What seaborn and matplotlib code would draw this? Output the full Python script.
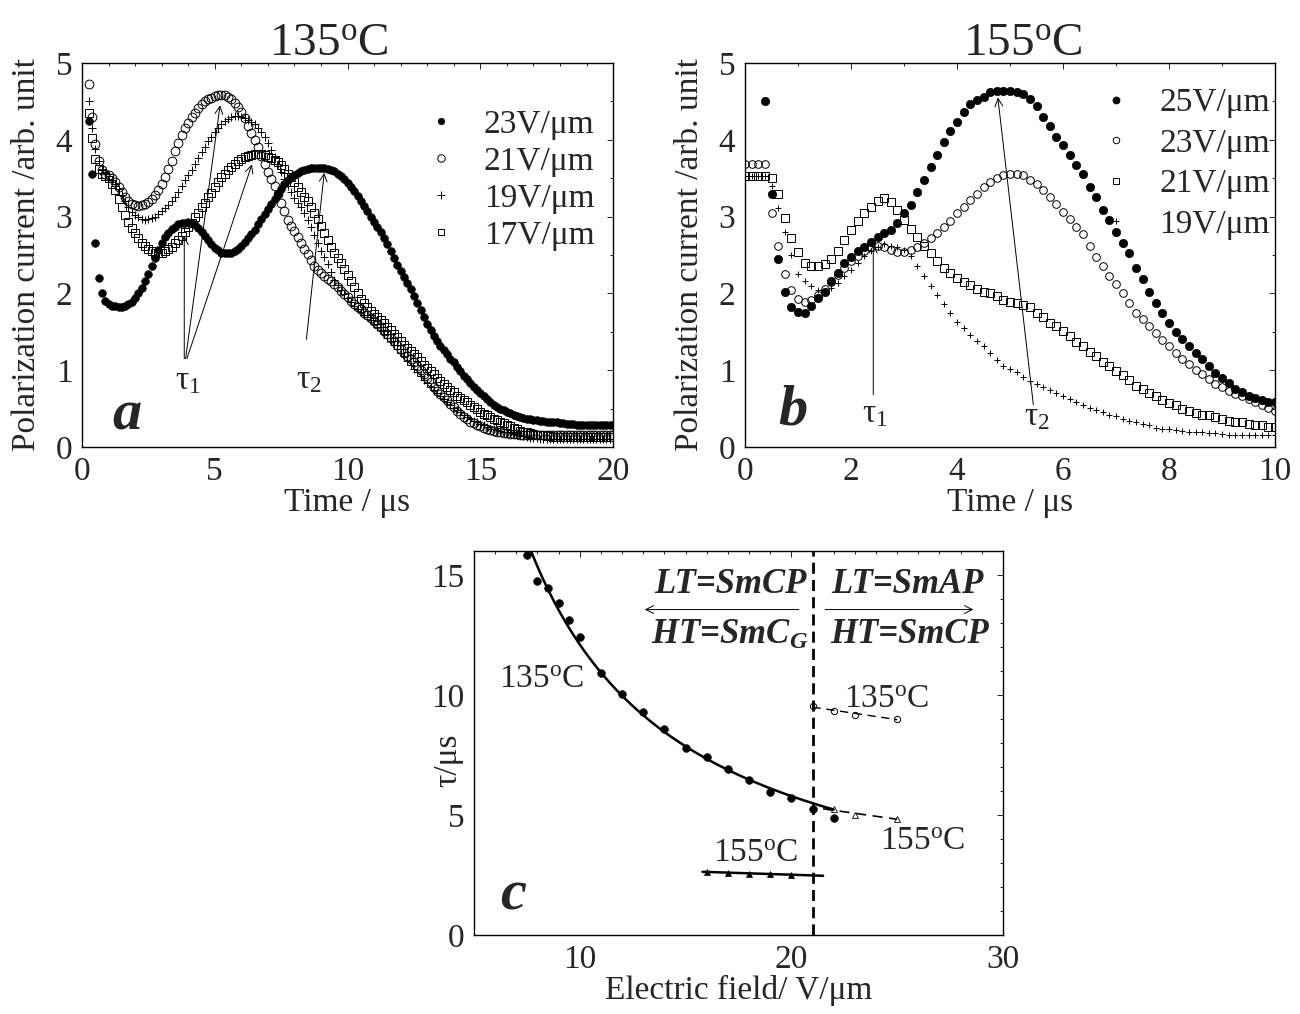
import numpy as np
import matplotlib
matplotlib.use("Agg")
import matplotlib.pyplot as plt
import seaborn as sns

# ---- panel a : 135 oC, polarization current read every 0.125 us (0.25 .. 20) ----
time_a = np.linspace(0.25, 20.0, 159)
current_a_23 = [4.25, 3.55, 2.65, 2.20, 2.00, 1.90, 1.86, 1.84, 1.83, 1.82,
                1.82, 1.84, 1.86, 1.89, 1.94, 2.00, 2.07, 2.16, 2.25, 2.36,
                2.46, 2.57, 2.66, 2.73, 2.79, 2.84, 2.87, 2.90, 2.91, 2.92,
                2.93, 2.92, 2.89, 2.85, 2.80, 2.75, 2.69, 2.64, 2.59, 2.56,
                2.53, 2.52, 2.52, 2.53, 2.55, 2.58, 2.62, 2.67, 2.72, 2.77,
                2.83, 2.90, 2.97, 3.03, 3.10, 3.17, 3.23, 3.30, 3.36, 3.42,
                3.47, 3.51, 3.54, 3.57, 3.59, 3.61, 3.62, 3.63, 3.63, 3.63,
                3.63, 3.63, 3.62, 3.61, 3.59, 3.56, 3.53, 3.49, 3.44, 3.39,
                3.33, 3.27, 3.20, 3.14, 3.07, 3.00, 2.93, 2.87, 2.80, 2.72,
                2.64, 2.55, 2.46, 2.37, 2.29, 2.21, 2.14, 2.06, 1.97, 1.88,
                1.78, 1.69, 1.60, 1.52, 1.45, 1.38, 1.32, 1.26, 1.21, 1.15,
                1.10, 1.04, 0.99, 0.93, 0.88, 0.83, 0.78, 0.74, 0.70, 0.66,
                0.62, 0.58, 0.55, 0.52, 0.50, 0.48, 0.46, 0.44, 0.42, 0.40,
                0.39, 0.38, 0.37, 0.36, 0.35, 0.35, 0.34, 0.34, 0.33, 0.33,
                0.32, 0.32, 0.31, 0.31, 0.30, 0.30, 0.30, 0.29, 0.29, 0.29,
                0.28, 0.28, 0.28, 0.28, 0.28, 0.28, 0.28, 0.28, 0.28]
current_a_21 = [4.72, 4.30, 3.95, 3.72, 3.60, 3.56, 3.54, 3.50, 3.45, 3.39,
                3.32, 3.26, 3.20, 3.17, 3.15, 3.14, 3.15, 3.16, 3.19, 3.23,
                3.28, 3.34, 3.42, 3.51, 3.62, 3.73, 3.85, 3.96, 4.06, 4.15,
                4.22, 4.29, 4.35, 4.41, 4.46, 4.50, 4.53, 4.55, 4.57, 4.58,
                4.58, 4.58, 4.56, 4.53, 4.48, 4.43, 4.36, 4.28, 4.18, 4.09,
                4.00, 3.90, 3.79, 3.68, 3.58, 3.49, 3.40, 3.29, 3.18, 3.07,
                2.96, 2.88, 2.81, 2.73, 2.66, 2.58, 2.51, 2.43, 2.36, 2.31,
                2.27, 2.23, 2.19, 2.16, 2.12, 2.08, 2.03, 1.99, 1.95, 1.90,
                1.86, 1.82, 1.79, 1.75, 1.72, 1.68, 1.64, 1.60, 1.56, 1.51,
                1.47, 1.42, 1.38, 1.33, 1.28, 1.23, 1.19, 1.14, 1.10, 1.05,
                1.00, 0.95, 0.90, 0.84, 0.78, 0.73, 0.69, 0.65, 0.61, 0.56,
                0.52, 0.47, 0.43, 0.39, 0.36, 0.33, 0.31, 0.29, 0.27, 0.25,
                0.23, 0.22, 0.21, 0.20, 0.19, 0.18, 0.18, 0.17, 0.17, 0.17,
                0.16, 0.16, 0.16, 0.16, 0.15, 0.15, 0.15, 0.15, 0.15, 0.15,
                0.15, 0.15, 0.15, 0.15, 0.15, 0.15, 0.15, 0.15, 0.15, 0.15,
                0.15, 0.15, 0.15, 0.15, 0.15, 0.15, 0.15, 0.15, 0.15]
current_a_19 = [4.50, 4.15, 3.88, 3.72, 3.62, 3.57, 3.53, 3.48, 3.43, 3.36,
                3.28, 3.20, 3.12, 3.06, 3.02, 2.99, 2.97, 2.96, 2.97, 2.98,
                3.00, 3.03, 3.07, 3.11, 3.15, 3.20, 3.25, 3.32, 3.40, 3.47,
                3.54, 3.61, 3.68, 3.76, 3.84, 3.91, 3.98, 4.04, 4.10, 4.15,
                4.20, 4.24, 4.27, 4.29, 4.31, 4.31, 4.30, 4.28, 4.26, 4.23,
                4.20, 4.15, 4.10, 4.03, 3.96, 3.87, 3.78, 3.68, 3.58, 3.49,
                3.40, 3.32, 3.24, 3.18, 3.12, 3.04, 2.96, 2.86, 2.76, 2.65,
                2.55, 2.47, 2.38, 2.28, 2.18, 2.11, 2.04, 1.99, 1.94, 1.89,
                1.84, 1.80, 1.76, 1.72, 1.69, 1.65, 1.60, 1.56, 1.52, 1.47,
                1.42, 1.38, 1.33, 1.28, 1.23, 1.18, 1.12, 1.07, 1.01, 0.97,
                0.92, 0.87, 0.83, 0.78, 0.74, 0.70, 0.66, 0.62, 0.58, 0.55,
                0.51, 0.48, 0.45, 0.42, 0.39, 0.36, 0.34, 0.32, 0.30, 0.28,
                0.26, 0.24, 0.23, 0.22, 0.21, 0.20, 0.19, 0.18, 0.17, 0.16,
                0.15, 0.14, 0.13, 0.12, 0.12, 0.12, 0.11, 0.11, 0.11, 0.11,
                0.11, 0.11, 0.11, 0.11, 0.11, 0.11, 0.11, 0.11, 0.11, 0.11,
                0.11, 0.11, 0.11, 0.11, 0.11, 0.11, 0.11, 0.11, 0.11]
current_a_17 = [4.35, 4.02, 3.75, 3.62, 3.55, 3.53, 3.50, 3.43, 3.34, 3.23,
                3.12, 3.02, 2.93, 2.85, 2.78, 2.72, 2.66, 2.62, 2.58, 2.55,
                2.53, 2.52, 2.53, 2.55, 2.58, 2.61, 2.65, 2.70, 2.75, 2.80,
                2.86, 2.92, 2.99, 3.05, 3.12, 3.18, 3.25, 3.31, 3.38, 3.45,
                3.51, 3.56, 3.61, 3.65, 3.68, 3.72, 3.75, 3.77, 3.79, 3.80,
                3.81, 3.81, 3.81, 3.80, 3.78, 3.76, 3.74, 3.71, 3.67, 3.62,
                3.56, 3.51, 3.45, 3.39, 3.32, 3.26, 3.20, 3.13, 3.05, 2.97,
                2.88, 2.79, 2.70, 2.61, 2.53, 2.46, 2.39, 2.32, 2.24, 2.16,
                2.08, 2.00, 1.93, 1.87, 1.82, 1.77, 1.73, 1.69, 1.65, 1.61,
                1.56, 1.52, 1.47, 1.43, 1.38, 1.33, 1.29, 1.25, 1.21, 1.17,
                1.12, 1.07, 1.03, 0.99, 0.95, 0.90, 0.86, 0.82, 0.78, 0.74,
                0.71, 0.67, 0.64, 0.61, 0.58, 0.55, 0.52, 0.49, 0.46, 0.43,
                0.41, 0.39, 0.37, 0.35, 0.33, 0.31, 0.29, 0.27, 0.25, 0.23,
                0.21, 0.20, 0.19, 0.18, 0.17, 0.16, 0.15, 0.15, 0.14, 0.14,
                0.13, 0.13, 0.13, 0.13, 0.13, 0.13, 0.13, 0.13, 0.13, 0.13,
                0.13, 0.13, 0.13, 0.13, 0.13, 0.13, 0.13, 0.13, 0.13]
fields_a = ["23V/μm", "21V/μm", "19V/μm", "17V/μm"]

# ---- panel b : 155 oC, read every 0.125 us (nan = off scale) ----
time_b = np.linspace(0.0, 10.0, 81)
current_b_25 = [np.nan, np.nan, np.nan, 4.51, 3.30, 2.45, 2.02, 1.82, 1.76, 1.75,
                1.84, 1.94, 2.02, 2.16, 2.27, 2.39, 2.47, 2.55, 2.61, 2.67,
                2.74, 2.78, 2.82, 2.92, 3.05, 3.15, 3.32, 3.47, 3.64, 3.80,
                3.97, 4.12, 4.23, 4.36, 4.47, 4.52, 4.56, 4.62, 4.63, 4.63,
                4.63, 4.62, 4.59, 4.53, 4.44, 4.30, 4.18, 4.04, 3.93, 3.80,
                3.67, 3.55, 3.39, 3.25, 3.08, 2.95, 2.80, 2.66, 2.52, 2.33,
                2.19, 2.02, 1.88, 1.75, 1.62, 1.50, 1.41, 1.31, 1.22, 1.14,
                1.05, 0.96, 0.90, 0.83, 0.75, 0.71, 0.67, 0.64, 0.61, 0.59,
                0.58]
current_b_23 = [3.69, 3.69, 3.69, 3.69, 3.05, 2.62, 2.25, 2.04, 1.93, 1.89,
                1.92, 1.98, 2.06, 2.15, 2.24, 2.33, 2.42, 2.49, 2.55, 2.60,
                2.62, 2.60, 2.57, 2.54, 2.54, 2.57, 2.61, 2.65, 2.72, 2.78,
                2.86, 2.94, 3.04, 3.13, 3.21, 3.30, 3.38, 3.45, 3.50, 3.54,
                3.56, 3.56, 3.54, 3.48, 3.42, 3.34, 3.26, 3.16, 3.06, 2.97,
                2.87, 2.77, 2.62, 2.48, 2.36, 2.22, 2.12, 2.01, 1.87, 1.75,
                1.66, 1.58, 1.48, 1.39, 1.31, 1.22, 1.15, 1.08, 1.00, 0.95,
                0.88, 0.82, 0.78, 0.73, 0.69, 0.66, 0.63, 0.59, 0.55, 0.51,
                0.47]
current_b_21 = [3.53, 3.53, 3.53, 3.53, 3.50, 3.30, 2.98, 2.72, 2.54, 2.40,
                2.35, 2.35, 2.38, 2.45, 2.55, 2.69, 2.82, 2.94, 3.04, 3.13,
                3.20, 3.24, 3.19, 3.09, 2.95, 2.84, 2.73, 2.62, 2.52, 2.42,
                2.33, 2.26, 2.20, 2.15, 2.11, 2.06, 2.02, 2.00, 1.96, 1.92,
                1.89, 1.87, 1.85, 1.82, 1.75, 1.69, 1.62, 1.57, 1.51, 1.44,
                1.37, 1.31, 1.24, 1.18, 1.11, 1.06, 0.99, 0.94, 0.87, 0.80,
                0.75, 0.70, 0.66, 0.61, 0.57, 0.54, 0.50, 0.47, 0.44, 0.42,
                0.41, 0.39, 0.36, 0.34, 0.33, 0.32, 0.30, 0.29, 0.28, 0.26,
                0.26]
current_b_19 = [3.53, 3.53, 3.53, 3.53, 3.40, 3.11, 2.80, 2.50, 2.25, 2.16,
                2.09, 2.04, 2.02, 2.07, 2.14, 2.23, 2.30, 2.39, 2.49, 2.55,
                2.61, 2.64, 2.62, 2.61, 2.57, 2.49, 2.36, 2.23, 2.10, 1.98,
                1.86, 1.74, 1.63, 1.55, 1.46, 1.38, 1.31, 1.22, 1.13, 1.06,
                1.01, 0.97, 0.91, 0.86, 0.82, 0.78, 0.74, 0.70, 0.66, 0.62,
                0.58, 0.55, 0.51, 0.48, 0.45, 0.42, 0.40, 0.37, 0.34, 0.32,
                0.30, 0.28, 0.25, 0.24, 0.23, 0.22, 0.21, 0.20, 0.20, 0.19,
                0.18, 0.18, 0.17, 0.16, 0.16, 0.15, 0.15, 0.15, 0.15, 0.15,
                0.15]
fields_b = ["25V/μm", "23V/μm", "21V/μm", "19V/μm"]

# ---- panel c : switching time vs field ----
field_135_low = [7.5, 8, 8.5, 9, 9.5, 10, 11, 12, 13, 14, 15, 16, 17, 18, 19, 20, 21, 22]
tau_135_low = [15.85, 14.75, 14.44, 13.84, 13.14, 12.43, 10.93, 10.04, 9.30, 8.57,
               7.81, 7.41, 6.92, 6.46, 5.94, 5.70, 5.23, 4.87]
field_155_low = [16, 17, 18, 19, 20]
tau_155_low = [2.64, 2.59, 2.56, 2.54, 2.52]
field_135_high = [21, 22, 23, 25]
tau_135_high = [9.55, 9.35, 9.15, 9.02]
field_155_high = [22, 23, 25]
tau_155_high = [5.23, 5.02, 4.84]
transition_field = 21.0

sns.set_style("white", {"axes.edgecolor": "black"})
plt.rcParams["font.family"] = ["Liberation Serif", "DejaVu Serif"]
plt.rcParams["mathtext.fontset"] = "custom"
plt.rcParams["mathtext.rm"] = "Liberation Serif"
plt.rcParams["mathtext.it"] = "Liberation Serif:italic"
plt.rcParams["mathtext.bf"] = "Liberation Serif:italic:bold"

FS = 24
fig = plt.figure(figsize=(13, 10.14), dpi=100)
ax_a = fig.add_axes([0.0631, 0.5592, 0.4085, 0.3787])
ax_b = fig.add_axes([0.5731, 0.5592, 0.4077, 0.3787])
ax_c = fig.add_axes([0.3646, 0.0779, 0.4069, 0.3787])

filled = dict(marker="o", markerfacecolor="black", markeredgecolor="black", markeredgewidth=0.5)
ring = dict(marker="o", markerfacecolor="none", markeredgecolor="black", markeredgewidth=0.7)
plus = dict(marker="+", markeredgecolor="black", markeredgewidth=0.7)
box = dict(marker="s", markerfacecolor="none", markeredgecolor="black", markeredgewidth=0.7)


def scatter(ax, x, y, label, style, size):
    sns.lineplot(x=x, y=y, ax=ax, label=label, linestyle="none", color="black",
                 markersize=size, **style)


def arrow(ax, start, tip):
    ax.annotate("", xy=tip, xytext=start,
                arrowprops=dict(arrowstyle="->", lw=0.7, color="black",
                                shrinkA=0, shrinkB=0, mutation_scale=14))


# panel a
scatter(ax_a, time_a, current_a_23, fields_a[0], filled, 5.5)
scatter(ax_a, time_a, current_a_21, fields_a[1], ring, 6.3)
scatter(ax_a, time_a, current_a_19, fields_a[2], plus, 6.0)
scatter(ax_a, time_a, current_a_17, fields_a[3], box, 5.8)
ax_a.set_xlim(0, 20)
ax_a.set_ylim(0, 5)
ax_a.set_xticks([0, 5, 10, 15, 20])
ax_a.set_xticks(np.arange(0, 21, 1), minor=True)
ax_a.set_yticks(np.arange(0, 5.5, 0.5), minor=True)
for start, tip in [((3.85, 1.15), (3.85, 2.75)), ((3.9, 1.15), (5.2, 4.45)),
                   ((3.95, 1.15), (6.4, 3.68)), ((8.45, 1.4), (9.12, 3.57))]:
    arrow(ax_a, start, tip)
ax_a.text(4.0, 0.75, "τ$_1$", ha="center", va="baseline", fontsize=FS)
ax_a.text(8.55, 0.76, "τ$_2$", ha="center", va="baseline", fontsize=FS)
ax_a.text(1.7, 0.23, "a", ha="center", va="baseline", fontsize=42,
          fontweight="bold", fontstyle="italic")
ax_a.set_title("135$^\\mathrm{o}$C", fontsize=34, pad=6, x=0.465)
ax_a.set_xlabel("Time / μs", fontsize=FS, labelpad=0)
ax_a.set_ylabel("Polarization current /arb. unit", fontsize=FS)
ax_a.yaxis.set_label_coords(-0.075, 0.5)
ax_a.legend(loc="upper right", bbox_to_anchor=(0.965, 0.88), frameon=False,
            fontsize=FS, handlelength=1.0, handletextpad=0.8, labelspacing=0.2,
            borderpad=0, borderaxespad=0, markerscale=0.85)

# panel b
scatter(ax_b, time_b, current_b_25, fields_b[0], filled, 6.0)
scatter(ax_b, time_b, current_b_23, fields_b[1], ring, 5.5)
scatter(ax_b, time_b, current_b_21, fields_b[2], box, 5.5)
scatter(ax_b, time_b, current_b_19, fields_b[3], plus, 5.0)
ax_b.set_xlim(0, 10)
ax_b.set_ylim(0, 5)
ax_b.set_xticks([0, 2, 4, 6, 8, 10])
ax_b.set_xticks(np.arange(0, 11, 1), minor=True)
ax_b.set_yticks(np.arange(0, 5.5, 0.5), minor=True)
arrow(ax_b, (2.42, 0.68), (2.42, 2.64))
arrow(ax_b, (5.44, 0.55), (4.77, 4.55))
ax_b.text(2.45, 0.32, "τ$_1$", ha="center", va="baseline", fontsize=FS)
ax_b.text(5.5, 0.28, "τ$_2$", ha="center", va="baseline", fontsize=FS)
ax_b.text(0.91, 0.29, "b", ha="center", va="baseline", fontsize=42,
          fontweight="bold", fontstyle="italic")
ax_b.set_title("155$^\\mathrm{o}$C", fontsize=34, pad=6, x=0.525)
ax_b.set_xlabel("Time / μs", fontsize=FS, labelpad=0)
ax_b.set_ylabel("Polarization current /arb. unit", fontsize=FS)
ax_b.yaxis.set_label_coords(-0.075, 0.5)
ax_b.legend(loc="upper right", bbox_to_anchor=(0.99, 0.935), frameon=False,
            fontsize=FS, handlelength=1.0, handletextpad=0.8, labelspacing=0.3,
            borderpad=0, borderaxespad=0, markerscale=0.85)

# panel c : fits derived from the points
x135 = np.array(field_135_low)
y135 = np.array(tau_135_low)
sel = x135 <= 20
p135 = np.polyfit(np.log(x135[sel]), np.log(y135[sel]), 1)
xf = np.linspace(7.5, 22, 120)
sns.lineplot(x=xf, y=np.exp(np.polyval(p135, np.log(xf))), ax=ax_c, color="black", linewidth=1.8)

p155 = np.polyfit(field_155_low, tau_155_low, 1)
xf = np.linspace(15.8, 21.5, 10)
sns.lineplot(x=xf, y=np.polyval(p155, xf), ax=ax_c, color="black", linewidth=1.8)

p135h = np.polyfit(field_135_high, tau_135_high, 1)
xf = np.linspace(21, 25, 10)
sns.lineplot(x=xf, y=np.polyval(p135h, xf), ax=ax_c, color="black", linewidth=1.0,
             dashes=(6, 4))

p155h = np.polyfit(field_155_high, tau_155_high, 1)
xf = np.linspace(21.5, 25, 10)
sns.lineplot(x=xf, y=np.polyval(p155h, xf), ax=ax_c, color="black", linewidth=1.2,
             dashes=(6, 4))

scatter(ax_c, field_135_low, tau_135_low, None, filled, 5.5)
scatter(ax_c, field_155_low, tau_155_low, None,
        dict(marker="^", markerfacecolor="black", markeredgecolor="black", markeredgewidth=0.5), 4.0)
scatter(ax_c, field_135_high, tau_135_high, None, ring, 4.5)
scatter(ax_c, field_155_high, tau_155_high, None,
        dict(marker="^", markerfacecolor="none", markeredgecolor="black", markeredgewidth=0.6), 4.0)
ax_c.axvline(transition_field, color="black", linewidth=2.0, dashes=(4, 2.2))

ax_c.set_xlim(5, 30)
ax_c.set_ylim(0, 16)
ax_c.set_xticks([10, 20, 30])
ax_c.set_xticks(np.arange(5, 31, 1), minor=True)
ax_c.set_yticks([0, 5, 10, 15])
ax_c.set_yticks(np.arange(0, 17, 1), minor=True)

bi = dict(fontsize=25, fontweight="bold", fontstyle="italic", ha="center", va="baseline")
ax_c.text(17.1, 14.23, "LT=SmCP", **bi)
ax_c.text(17.1, 12.15, "HT=SmC$_\\mathbf{G}$", **bi)
ax_c.text(25.5, 14.23, "LT=SmAP", **bi)
ax_c.text(25.6, 12.15, "HT=SmCP", **bi)
arrow(ax_c, (20.35, 13.56), (13.07, 13.56))
arrow(ax_c, (21.6, 13.56), (28.6, 13.56))
for x, y, s in [(8.2, 10.3, "135"), (24.5, 9.45, "135"), (26.2, 3.54, "155"), (18.3, 3.05, "155")]:
    ax_c.text(x, y, s + "$^\\mathrm{o}$C", ha="center", va="baseline", fontsize=FS)
ax_c.text(6.84, 1.08, "c", ha="center", va="baseline", fontsize=42,
          fontweight="bold", fontstyle="italic")
ax_c.set_xlabel("Electric field/ V/μm", fontsize=FS, labelpad=0)
ax_c.set_ylabel("τ/μs", fontsize=FS)
ax_c.yaxis.set_label_coords(-0.02, 0.456)
if ax_c.get_legend() is not None:
    ax_c.get_legend().remove()

for ax in (ax_a, ax_b, ax_c):
    ax.tick_params(which="both", direction="in", top=True, right=True, width=0.7,
                   labelsize=FS)
    ax.tick_params(which="major", length=4, pad=7)
    ax.tick_params(which="minor", length=2.5)
    for sp in ax.spines.values():
        sp.set_linewidth(1.0)
        sp.set_color("black")

fig.savefig("out.png", dpi=100)
